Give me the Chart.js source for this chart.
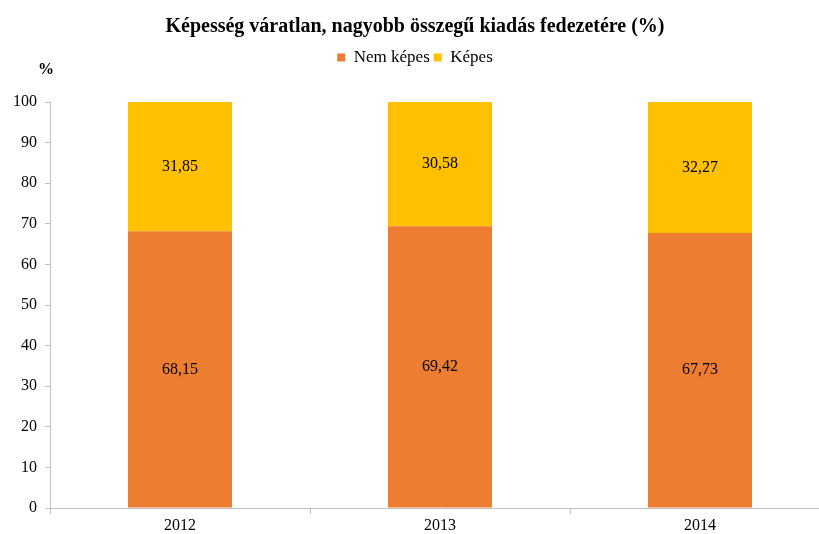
<!DOCTYPE html>
<html>
<head>
<meta charset="utf-8">
<script src="https://cdn.jsdelivr.net/npm/chart.js@4"></script>
<style>
  html, body { margin: 0; padding: 0; background: #fff; overflow: hidden; }
  #wrap { width: 819px; height: 534px; overflow: hidden; }
</style>
</head>
<body>
<div id="wrap"><canvas id="chart" width="830" height="534"></canvas></div>
<script>
const years = ['2012', '2013', '2014'];
const nemKepes = [68.15, 69.42, 67.73];
const kepes = [31.85, 30.58, 32.27];
const yTicks = [0, 10, 20, 30, 40, 50, 60, 70, 80, 90, 100];

const serif = '"Liberation Serif", "Times New Roman", serif';

// values written in the middle of each bar segment, plus the "%" unit label
const segmentLabels = {
  id: 'segmentLabels',
  beforeInit(chart) {
    // leave room under the legend, like the original
    const fit = chart.legend.fit;
    chart.legend.fit = function () {
      fit.call(this);
      this.height += 26;
    };
  },
  afterDatasetsDraw(chart) {
    const ctx = chart.ctx;
    ctx.save();
    ctx.fillStyle = '#000';
    ctx.font = '16px ' + serif;
    ctx.textAlign = 'center';
    ctx.textBaseline = 'middle';
    chart.data.datasets.forEach((ds, i) => {
      chart.getDatasetMeta(i).data.forEach((bar, j) => {
        const p = bar.getCenterPoint();
        ctx.fillText(ds.data[j].toFixed(2).replace('.', ','), p.x, p.y);
      });
    });
    ctx.font = 'bold 16px ' + serif;
    ctx.fillText('%', 46, 70);
    ctx.restore();
  }
};

new Chart(document.getElementById('chart'), {
  type: 'bar',
  data: {
    labels: years,
    datasets: [
      { label: 'Nem képes', data: nemKepes, backgroundColor: '#ED7D31', barPercentage: 0.4, categoryPercentage: 1 },
      { label: 'Képes', data: kepes, backgroundColor: '#FFC000', barPercentage: 0.4, categoryPercentage: 1 }
    ]
  },
  options: {
    responsive: false,
    animation: false,
    layout: { padding: { left: 0, right: 0, top: 13, bottom: 0 } },
    plugins: {
      title: {
        display: true,
        text: 'Képesség váratlan, nagyobb összegű kiadás fedezetére (%)',
        color: '#000',
        font: { family: serif, size: 20, weight: 'bold' },
        padding: { top: 2, bottom: 6 }
      },
      legend: {
        display: true,
        labels: {
          color: '#000',
          font: { family: serif, size: 17 },
          boxWidth: 8,
          boxHeight: 8,
          padding: 4
        }
      },
      tooltip: { enabled: false }
    },
    scales: {
      x: {
        stacked: true,
        grid: { drawOnChartArea: false, offset: true, tickLength: 6, color: '#bfbfbf' },
        border: { color: '#bfbfbf' },
        ticks: { color: '#000', font: { family: serif, size: 16 }, padding: 2 },
        afterFit(scale) { scale.height = 26; }
      },
      y: {
        stacked: true,
        min: 0,
        max: 100,
        afterBuildTicks(scale) { scale.ticks = yTicks.map(v => ({ value: v })); },
        grid: { drawOnChartArea: false, tickLength: 5, color: '#bfbfbf' },
        border: { color: '#bfbfbf' },
        ticks: { color: '#000', font: { family: serif, size: 16 }, padding: 8 },
        afterFit(scale) { scale.width = 50; }
      }
    }
  },
  plugins: [segmentLabels]
});
</script>
</body>
</html>
